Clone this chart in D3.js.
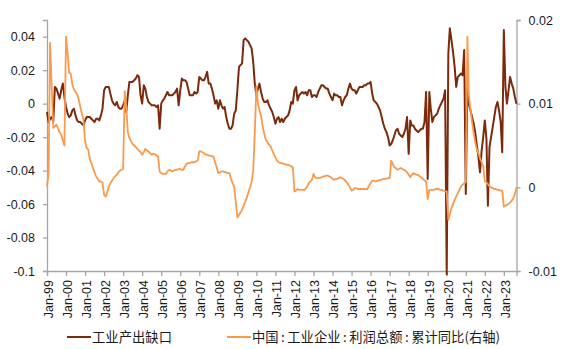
<!DOCTYPE html>
<html>
<head>
<meta charset="utf-8">
<script src="https://cdn.jsdelivr.net/npm/d3@7"></script>
<style>
  html, body { margin: 0; padding: 0; background: #fff; }
  svg { display: block; }
</style>
</head>
<body>
<svg id="chart" width="565" height="349"></svg>
<script>
// Monthly series, Jan 1999 – Sep 2023
const startMonth = "1999-01";

// 工业产出缺口 (left axis)
const outputGap = [
  -0.005, -0.011, -0.009, -0.008, -0.011, 0.010, 0.009, 0.006, 0.003, 0.008,
  0.012, 0.004, -0.002, -0.006, -0.008, -0.007, -0.004, -0.003, -0.007, -0.010,
  -0.011, -0.011, -0.012, -0.013, -0.010, -0.008, -0.008, -0.008, -0.009, -0.010,
  -0.011, -0.009, -0.009, -0.010, -0.007, -0.003, 0.008, 0.010, 0.010, 0.010,
  0.006, 0.002, 0.000, -0.001, 0.001, -0.002, -0.003, -0.003, -0.001, 0.002,
  -0.005, 0.005, 0.013, 0.013, 0.013, 0.014, 0.015, 0.017, 0.016, 0.005,
  0.000, 0.011, 0.009, 0.004, 0.001, 0.000, -0.001, -0.001, -0.001, -0.002,
  -0.001, -0.015, 0.000, 0.002, 0.003, 0.005, 0.007, 0.005, 0.005, 0.005,
  0.006, 0.007, 0.009, -0.001, 0.008, 0.015, 0.014, 0.014, 0.013, 0.009,
  0.005, 0.005, 0.005, 0.007, 0.006, 0.007, 0.016, 0.015, 0.014, 0.014,
  0.016, 0.019, 0.012, 0.012, 0.009, 0.005, 0.000, 0.002, -0.003, 0.002,
  -0.001, -0.003, -0.002, -0.008, -0.012, -0.015, -0.015, -0.013, -0.006, -0.004,
  0.008, 0.022, 0.023, 0.024, 0.038, 0.039, 0.038, 0.037, 0.035, 0.033,
  0.025, 0.012, 0.005, 0.009, 0.012, 0.007, 0.003, 0.001, 0.001, 0.002,
  -0.001, -0.003, -0.005, -0.008, -0.012, -0.009, -0.008, -0.011, -0.009, -0.011,
  -0.009, -0.008, -0.007, -0.004, 0.001, 0.000, 0.008, 0.010, 0.002, 0.005,
  0.006, 0.007, 0.006, 0.007, 0.005, 0.008, 0.008, 0.004, 0.005, 0.005,
  0.004, 0.007, 0.009, 0.011, 0.011, 0.010, 0.009, 0.009, 0.006, 0.004,
  0.002, 0.006, 0.005, 0.005, 0.004, 0.004, -0.001, 0.002, 0.004, 0.005,
  0.009, 0.012, 0.009, 0.008, 0.008, 0.006, 0.008, 0.010, 0.010, 0.010,
  0.011, 0.011, 0.012, 0.012, 0.013, 0.006, 0.002, 0.001, 0.000, -0.002,
  -0.004, -0.008, -0.012, -0.015, -0.017, -0.020, -0.025, -0.024, -0.022, -0.019,
  -0.016, -0.015, -0.018, -0.019, -0.020, -0.018, -0.015, -0.008, -0.030, -0.010,
  -0.013, -0.013, -0.015, -0.016, -0.017, -0.016, -0.015, -0.015, -0.011, 0.007,
  -0.045, 0.007, -0.003, -0.011, -0.008, -0.007, -0.006, -0.003, -0.001, 0.001,
  0.003, 0.008, -0.102, 0.030, 0.045, 0.038, 0.031, 0.022, 0.010, 0.016,
  0.017, 0.018, 0.017, 0.032, -0.054, 0.010, 0.000, -0.004, -0.008, -0.012,
  -0.017, -0.025, -0.032, -0.041, -0.028, -0.020, -0.010, -0.021, -0.061, -0.026,
  -0.020, -0.014, -0.008, -0.002, 0.001, -0.004, -0.011, -0.029, 0.044, 0.010,
  0.000, 0.008, 0.016, 0.012, 0.009, 0.004, 0.000
];

// 中国:工业企业:利润总额:累计同比 (right axis)
const profitGrowth = [
  0.0001, 0.0017, 0.0173, 0.0121, 0.0071, 0.0073, 0.0075, 0.0070, 0.0066, 0.0063,
  0.0056, 0.0050, 0.0180, 0.0160, 0.0137, 0.0136, 0.0123, 0.0117, 0.0114, 0.0111,
  0.0105, 0.0096, 0.0088, 0.0081, 0.0055, 0.0047, 0.0045, 0.0034, 0.0029, 0.0023,
  0.0018, 0.0013, 0.0010, 0.0007, 0.0007, 0.0006, -0.0009, -0.0011, -0.0006, 0.0001,
  0.0005, 0.0008, 0.0011, 0.0013, 0.0015, 0.0018, 0.0020, 0.0021, 0.0022, 0.0115,
  0.0097, 0.0066, 0.0059, 0.0055, 0.0052, 0.0050, 0.0048, 0.0046, 0.0044, 0.0042,
  0.0039, 0.0042, 0.0046, 0.0044, 0.0043, 0.0041, 0.0039, 0.0040, 0.0040, 0.0038,
  0.0037, 0.0019, 0.0017, 0.0016, 0.0016, 0.0016, 0.0019, 0.0021, 0.0020, 0.0019,
  0.0020, 0.0021, 0.0021, 0.0022, 0.0022, 0.0021, 0.0021, 0.0025, 0.0028, 0.0029,
  0.0029, 0.0030, 0.0030, 0.0030, 0.0031, 0.0032, 0.0043, 0.0043, 0.0042, 0.0041,
  0.0039, 0.0039, 0.0038, 0.0038, 0.0037, 0.0037, 0.0030, 0.0024, 0.0017, 0.0018,
  0.0019, 0.0019, 0.0018, 0.0018, 0.0017, 0.0017, 0.0010, 0.0005, 0.0001, -0.0017,
  -0.0036, -0.0033, -0.0030, -0.0027, -0.0022, -0.0017, -0.0012, -0.0006, 0.0000, 0.0006,
  0.0020, 0.0065, 0.0121, 0.0100, 0.0092, 0.0085, 0.0073, 0.0064, 0.0057, 0.0054,
  0.0051, 0.0049, 0.0044, 0.0040, 0.0036, 0.0032, 0.0030, 0.0029, 0.0029, 0.0028,
  0.0028, 0.0027, 0.0027, 0.0026, 0.0025, 0.0024, -0.0005, -0.0004, -0.0002, -0.0003,
  -0.0003, -0.0003, -0.0003, -0.0002, 0.0001, 0.0005, 0.0007, 0.0009, 0.0016, 0.0012,
  0.0011, 0.0011, 0.0011, 0.0012, 0.0013, 0.0013, 0.0014, 0.0014, 0.0013, 0.0012,
  0.0010, 0.0009, 0.0010, 0.0010, 0.0011, 0.0012, 0.0011, 0.0010, 0.0008, 0.0006,
  0.0003, 0.0000, -0.0004, -0.0003, -0.0001, -0.0001, -0.0002, -0.0002, -0.0002, -0.0002,
  -0.0002, -0.0002, -0.0002, 0.0002, 0.0005, 0.0008, 0.0008, 0.0007, 0.0008, 0.0008,
  0.0009, 0.0009, 0.0010, 0.0010, 0.0010, 0.0011, 0.0011, 0.0032, 0.0028, 0.0024,
  0.0023, 0.0021, 0.0022, 0.0023, 0.0022, 0.0021, 0.0020, 0.0018, 0.0015, 0.0012,
  0.0015, 0.0017, 0.0016, 0.0015, 0.0015, 0.0013, 0.0012, 0.0010, 0.0008, 0.0007,
  -0.0014, -0.0003, -0.0003, -0.0003, -0.0003, -0.0002, -0.0002, -0.0002, -0.0003, -0.0003,
  -0.0004, -0.0005, -0.0005, -0.0039, -0.0032, -0.0025, -0.0020, -0.0015, -0.0011, -0.0007,
  -0.0003, 0.0001, 0.0003, 0.0005, 0.0006, 0.0180, 0.0110, 0.0093, 0.0078, 0.0065,
  0.0054, 0.0045, 0.0040, 0.0035, 0.0030, 0.0025, 0.0007, 0.0006, 0.0004, 0.0001,
  0.0000, -0.0001, -0.0002, -0.0002, -0.0003, -0.0003, -0.0004, -0.0004, -0.0023, -0.0022,
  -0.0021, -0.0020, -0.0018, -0.0016, -0.0013, -0.0008, 0.0000
];

const xTickMonths = ["1999-01","2000-01","2001-01","2002-01","2003-01","2004-01","2005-01",
  "2006-01","2007-01","2008-01","2009-01","2010-01","2011-01","2012-01","2013-01","2014-01",
  "2015-01","2016-01","2017-01","2018-01","2019-01","2020-01","2021-01","2022-01","2023-01"];
const leftTicks = [0.04, 0.02, 0, -0.02, -0.04, -0.06, -0.08, -0.1];
const rightTicks = [0.02, 0.01, 0, -0.01];
const seriesNames = ["工业产出缺口", "中国:工业企业:利润总额:累计同比(右轴)"];
const seriesColors = ["#7b2a0b", "#f99a4c"];

const parseMonth = d3.timeParse("%Y-%m");
const t0 = parseMonth(startMonth);
const months = outputGap.map((_, i) => d3.timeMonth.offset(t0, i));

const plot = { left: 47, right: 516.5, top: 20, bottom: 271 };
const svg = d3.select("#chart");

const x = d3.scaleTime().domain([months[0], months[months.length - 1]]).range([plot.left, plot.right]);
const yL = d3.scaleLinear().domain([-0.1, 0.05]).range([plot.bottom, plot.top]);
const yR = d3.scaleLinear().domain([-0.01, 0.02]).range([plot.bottom, plot.top]);

const axisColor = "#a6a6a6";
const textColor = "#1a1a1a";
const tickFont = "Liberation Sans, Arial, sans-serif";
const cjkFont = "'Noto Sans CJK SC', sans-serif";

function styleAxis(g) {
  g.attr("font-family", null).attr("font-size", null);
  g.select(".domain").attr("stroke", axisColor).attr("stroke-width", 1.3);
  g.selectAll(".tick line").attr("stroke", axisColor).attr("stroke-width", 1.3);
  g.selectAll(".tick text").attr("fill", textColor)
    .attr("font-family", tickFont).attr("font-size", "12.5px");
}

// left axis
svg.append("g")
  .attr("transform", `translate(${plot.left},0)`)
  .call(d3.axisLeft(yL).tickValues(leftTicks).tickFormat(d => String(d))
    .tickSizeOuter(0).tickSize(4).tickPadding(8))
  .call(styleAxis);

// right axis
svg.append("g")
  .attr("transform", `translate(${plot.right},0)`)
  .call(d3.axisRight(yR).tickValues(rightTicks).tickFormat(d => String(d))
    .tickSizeOuter(0).tickSize(4).tickPadding(8))
  .call(styleAxis);

// bottom axis
const xAxis = svg.append("g")
  .attr("transform", `translate(0,${plot.bottom})`)
  .call(d3.axisBottom(x).tickValues(xTickMonths.map(parseMonth))
    .tickFormat(d3.timeFormat("%b-%y")).tickSizeOuter(0).tickSize(5))
  .call(styleAxis);
xAxis.selectAll(".tick text")
  .attr("text-anchor", "end")
  .attr("transform", "rotate(-90)")
  .attr("x", -9)
  .attr("y", 1)
  .attr("dy", "0.35em");

// series lines
const gapLine = d3.line().x((d, i) => x(months[i])).y(d => yL(d));
const profitLine = d3.line().x((d, i) => x(months[i])).y(d => yR(d));

svg.append("path")
  .datum(outputGap)
  .attr("fill", "none")
  .attr("stroke", seriesColors[0])
  .attr("stroke-width", 2)
  .attr("stroke-linejoin", "round")
  .attr("d", gapLine);

svg.append("path")
  .datum(profitGrowth)
  .attr("fill", "none")
  .attr("stroke", seriesColors[1])
  .attr("stroke-width", 1.8)
  .attr("stroke-linejoin", "round")
  .attr("d", profitLine);

// legend: swatch + label, each label held to its slot width
const legendY = 337;
const legendX = [67, 227];
const labelWidth = [80, 248];
legendX.forEach((lx, i) => {
  const g = svg.append("g").attr("transform", `translate(${lx},${legendY})`);
  g.append("line").attr("x1", 0).attr("x2", 24).attr("y1", 0).attr("y2", 0)
    .attr("stroke", seriesColors[i]).attr("stroke-width", 2);
  const t = g.append("text").attr("x", 25).attr("y", 0).attr("dy", "0.36em")
    .attr("font-family", cjkFont)
    .attr("font-size", "13.3px")
    .attr("fill", textColor)
    .attr("textLength", labelWidth[i])
    .attr("lengthAdjust", "spacing");
  const parts = seriesNames[i].split(":");
  parts.forEach((p, k) => {
    if (k > 0) {
      t.append("tspan").attr("dx", 2.5).text(":");
      t.append("tspan").attr("dx", 2.5).text(p);
    } else {
      t.append("tspan").text(p);
    }
  });
});
</script>
</body>
</html>
